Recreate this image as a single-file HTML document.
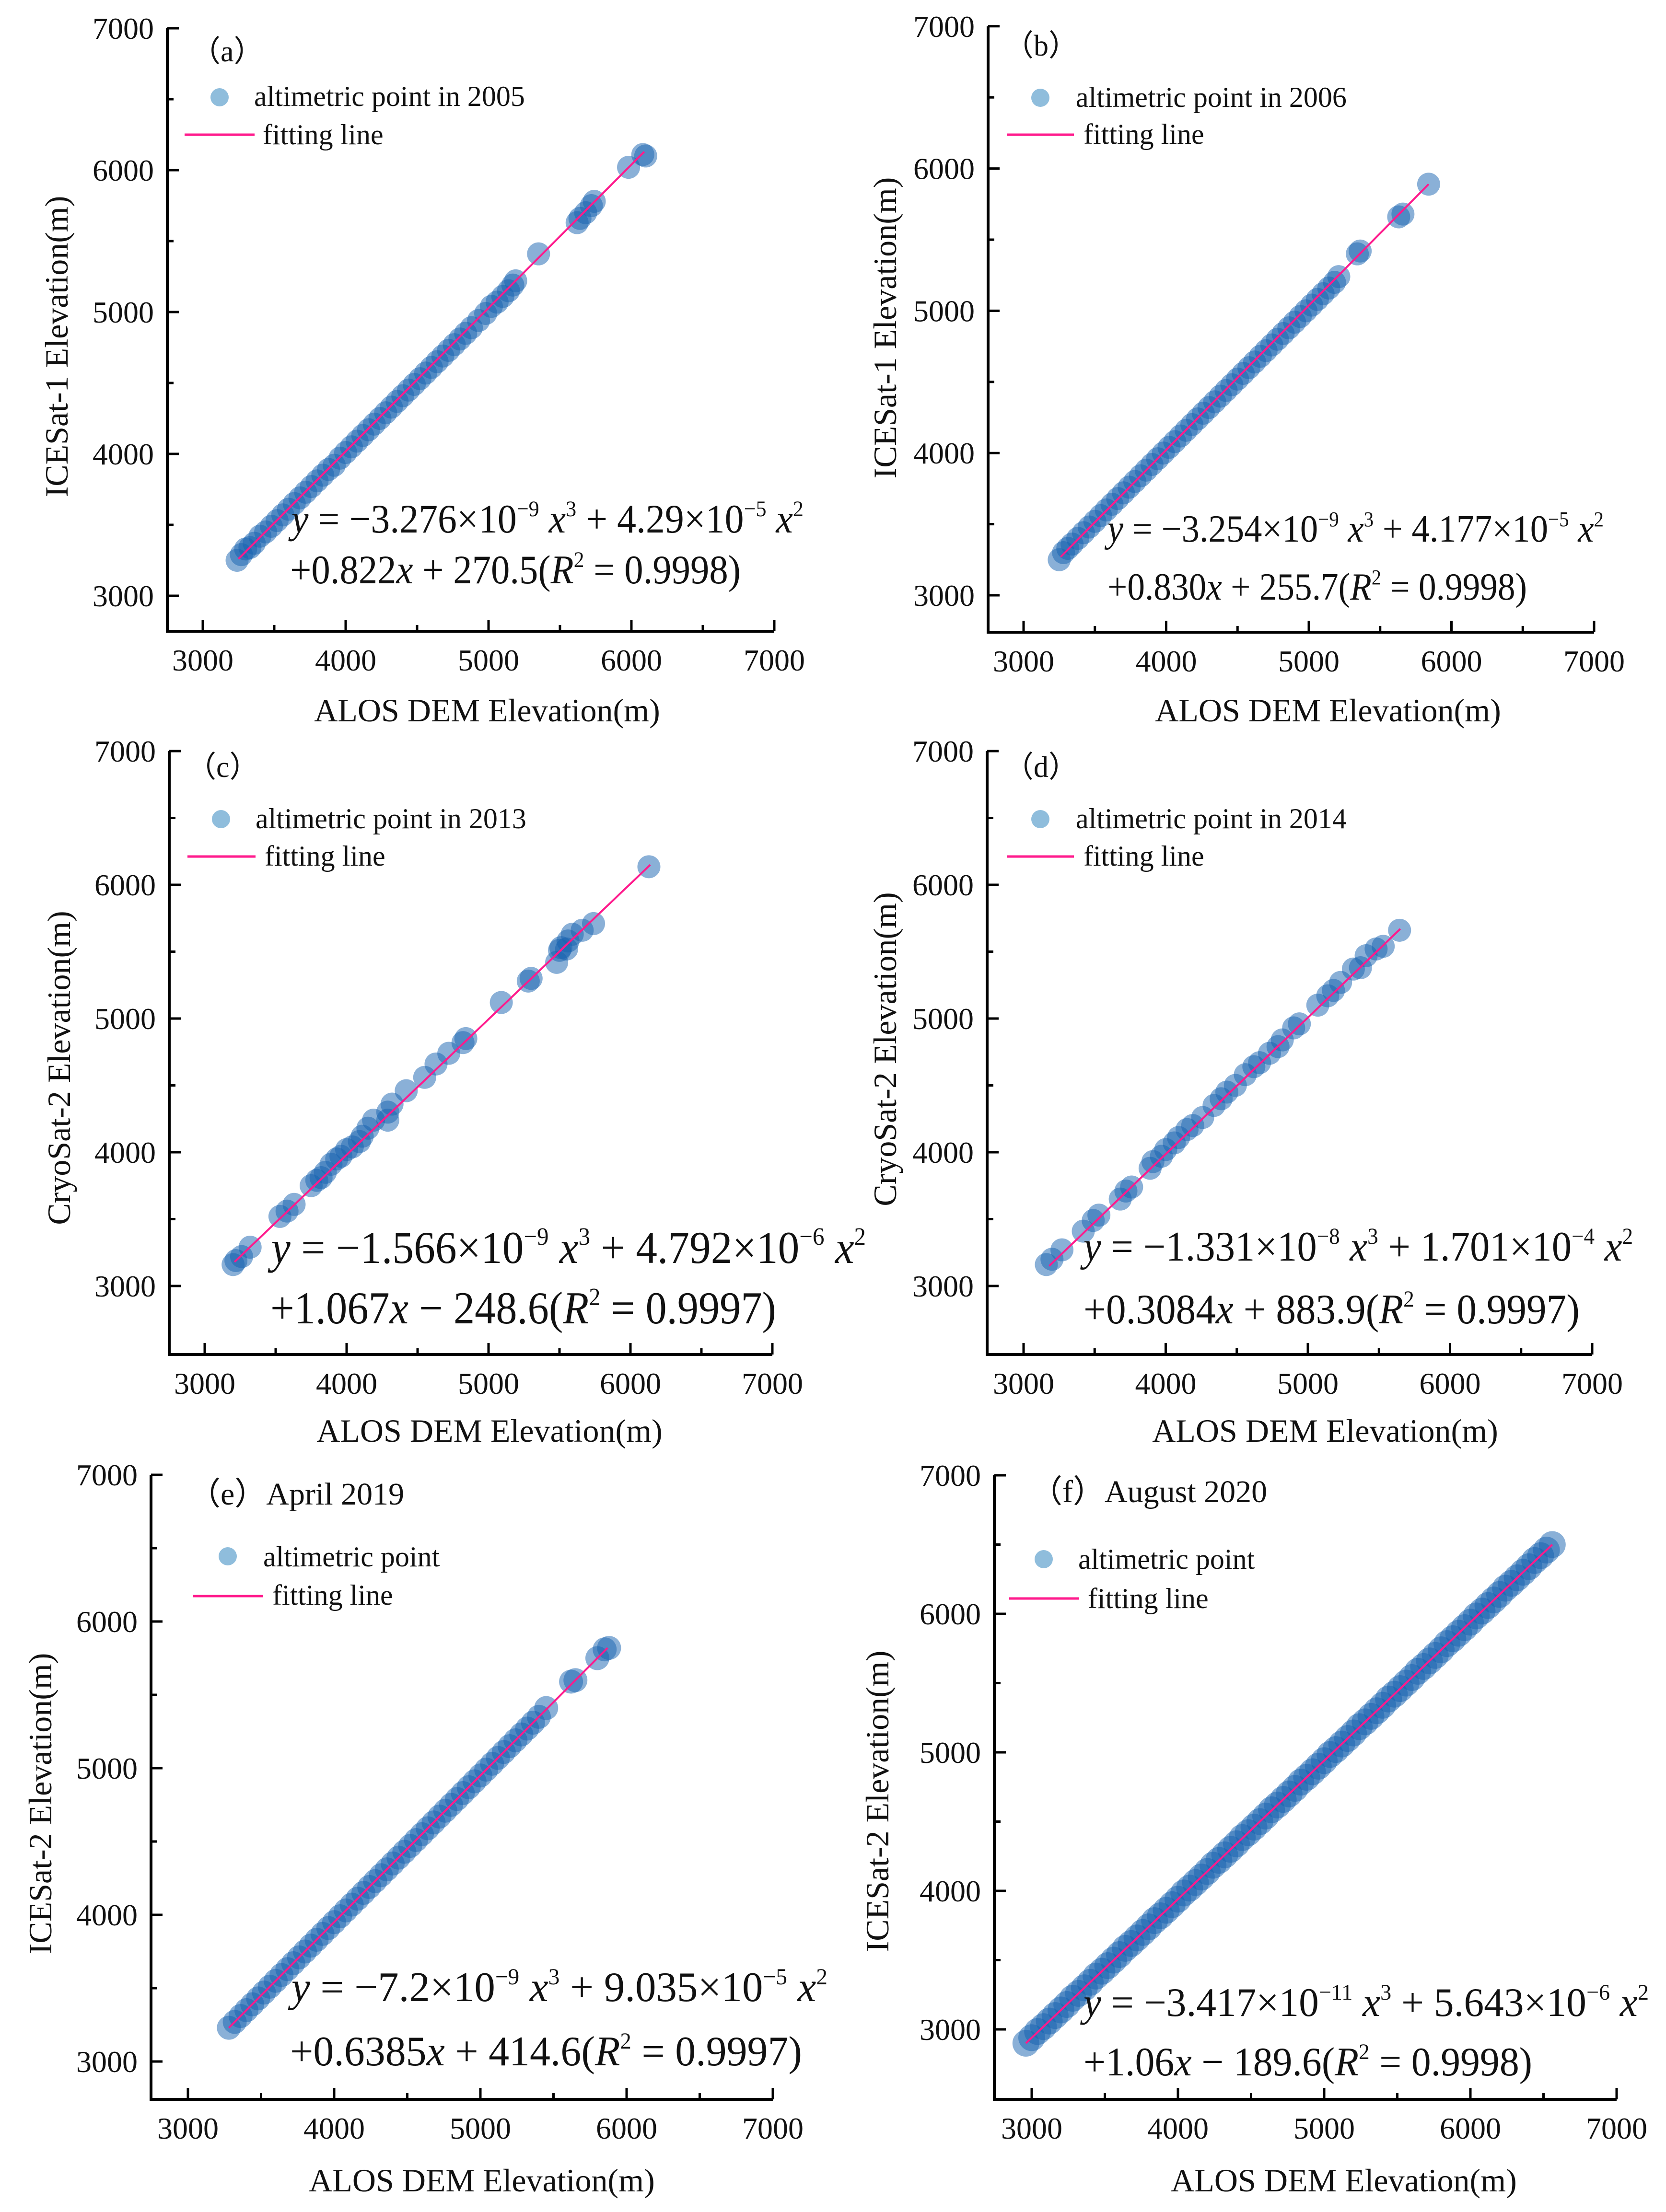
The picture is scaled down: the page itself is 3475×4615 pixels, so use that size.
<!DOCTYPE html>
<html><head><meta charset="utf-8">
<style>
html,body{margin:0;padding:0;background:#fff;}
svg{display:block;}
text{font-family:"Liberation Serif","Times New Roman",serif;fill:#111;}
</style></head>
<body>
<svg id="fig" width="3475" height="4615" viewBox="0 0 3475 4615" xmlns="http://www.w3.org/2000/svg">
<rect width="3475" height="4615" fill="#fff"/>
</svg>
<script>
// ---- data (ALOS DEM elevation x, satellite elevation y) ----
const aX=[3240,3270,3300,3330,3360,3400,3440,3480,3520,3560,3600,3640,3680,3720,3760,3800,3840,3880,3920,3960,4000,4040,4080,4120,4160,4200,4240,4280,4320,4360,4400,4440,4480,4520,4560,4600,4640,4680,4720,4760,4800,4840,4880,4930,4980,5020,5060,5100,5140,5170,5190,5350,5620,5640,5680,5720,5740,5980,6080,6100];
const aY=[3250,3290,3330,3340,3370,3420,3450,3490,3530,3570,3610,3650,3690,3730,3770,3810,3850,3890,3920,3970,4010,4050,4090,4130,4170,4210,4250,4290,4330,4370,4410,4450,4490,4530,4570,4610,4650,4690,4730,4770,4810,4850,4890,4940,4990,5040,5070,5110,5150,5190,5220,5410,5630,5660,5700,5750,5780,6020,6110,6100];
const aLineX=[3250,6090], aLineY=[3260,6130];
const bX=[3250,3280,3310,3340,3380,3420,3460,3500,3540,3580,3620,3660,3700,3740,3780,3820,3860,3900,3940,3980,4020,4060,4100,4140,4180,4220,4260,4300,4340,4380,4420,4460,4500,4540,4580,4620,4660,4700,4740,4780,4820,4860,4900,4940,4980,5020,5060,5100,5140,5180,5210,5340,5360,5630,5660,5840];
const bY=[3250,3300,3330,3360,3400,3440,3480,3520,3560,3600,3640,3680,3720,3760,3800,3840,3880,3920,3960,4000,4040,4080,4120,4160,4200,4240,4280,4320,4360,4400,4440,4480,4520,4560,4600,4640,4680,4720,4760,4800,4840,4880,4920,4960,5000,5040,5080,5120,5160,5200,5240,5400,5420,5660,5680,5890];
const bLineX=[3260,5840], bLineY=[3270,5890];
const cX=[3200,3220,3260,3320,3530,3580,3630,3750,3790,3820,3850,3890,3930,3960,4000,4040,4090,4110,4150,4190,4290,4290,4320,4420,4550,4630,4720,4820,4840,5090,5280,5300,5480,5500,5550,5510,5560,5590,5660,5740,6130];
const cY=[3160,3190,3220,3290,3520,3560,3610,3750,3790,3810,3850,3910,3950,3970,4020,4040,4080,4120,4180,4240,4240,4300,4360,4460,4560,4660,4740,4820,4850,5120,5280,5300,5420,5510,5520,5530,5580,5630,5660,5710,6135];
const cLineX=[3210,6140], cLineY=[3180,6150];
const dX=[3160,3200,3270,3420,3490,3530,3680,3720,3760,3890,3910,3970,4000,4060,4090,4150,4190,4260,4340,4390,4430,4490,4560,4620,4660,4730,4790,4820,4900,4940,5070,5140,5180,5230,5320,5370,5410,5480,5530,5645];
const dY=[3160,3200,3270,3410,3490,3530,3650,3710,3740,3880,3930,3970,4020,4070,4110,4170,4200,4260,4350,4400,4450,4500,4580,4640,4670,4740,4790,4840,4930,4960,5100,5170,5210,5270,5370,5380,5470,5520,5540,5660];
const dLineX=[3180,5650], dLineY=[3150,5670];
const eX=[3280,3320,3360,3400,3440,3480,3520,3560,3600,3640,3680,3720,3760,3800,3840,3880,3920,3960,4000,4040,4080,4120,4160,4200,4240,4280,4320,4360,4400,4440,4480,4520,4560,4600,4640,4680,4720,4760,4800,4840,4880,4920,4960,5000,5040,5080,5120,5160,5200,5240,5280,5320,5360,5400,5450,5620,5650,5800,5850,5880];
const eY=[3230,3270,3310,3350,3390,3430,3470,3510,3550,3590,3630,3670,3710,3750,3790,3830,3870,3910,3950,3990,4030,4070,4110,4150,4190,4230,4270,4310,4350,4390,4430,4470,4510,4550,4590,4630,4670,4710,4750,4790,4830,4870,4910,4950,4990,5030,5070,5110,5150,5190,5230,5270,5310,5350,5410,5590,5600,5750,5810,5820];
const eLineX=[3280,5870], eLineY=[3230,5820];
const fX=[2960,3000,3040,3080,3120,3160,3200,3240,3280,3320,3360,3400,3440,3480,3520,3560,3600,3640,3680,3720,3760,3800,3840,3880,3920,3960,4000,4040,4080,4120,4160,4200,4240,4280,4320,4360,4400,4440,4480,4520,4560,4600,4640,4680,4720,4760,4800,4840,4880,4920,4960,5000,5040,5080,5120,5160,5200,5240,5280,5320,5360,5400,5440,5480,5520,5560,5600,5640,5680,5720,5760,5800,5840,5880,5920,5960,6000,6040,6080,6120,6160,6200,6240,6280,6320,6360,6400,6440,6480,6520,6560];
const fY=[2900,2940,2985,3020,3060,3100,3140,3180,3225,3260,3300,3340,3385,3420,3460,3500,3540,3585,3620,3660,3700,3740,3785,3820,3860,3900,3940,3985,4020,4060,4100,4140,4185,4220,4260,4300,4340,4385,4420,4460,4500,4540,4585,4620,4660,4700,4740,4785,4820,4860,4900,4940,4985,5020,5060,5100,5140,5185,5220,5260,5300,5340,5385,5420,5460,5500,5540,5585,5620,5660,5700,5740,5785,5820,5860,5900,5940,5985,6020,6060,6100,6140,6185,6220,6260,6300,6340,6385,6420,6460,6500];
const fLineX=[2960,6560], fLineY=[2900,6500];
const xTicks=[3000,4000,5000,6000,7000];
const yTicks=[3000,4000,5000,6000,7000];

const NS="http://www.w3.org/2000/svg";
const svg=document.getElementById('fig');
function mk(tag,attrs,parent,txt){const e=document.createElementNS(NS,tag);for(const k in attrs)e.setAttribute(k,attrs[k]);if(txt!==undefined)e.textContent=txt;(parent||svg).appendChild(e);return e;}

const panels=[
 {id:'a',xs:aX,ys:aY,lx:aLineX,ly:aLineY,L:349,B:1317,x3:423,kx:0.298,y3:1243,ky:0.296,ymin:2750,r:24,
  label:'（a）',labX:398,labY:128,leg:[458,203,530,221,385,531,281,548,301],legText:'altimetric point in 2005',
  ytitle:'ICESat-1 Elevation(m)',ytx:117,yty:723,xtx:1016,xty:1505,
  eq:[608,1111,1068,605,1217,940,85],c3:'−3.276',e3:'−9',c2:'4.29',e2:'−5',l2:'+0.822',l2b:' + 270.5(',r2:'0.9998'},
 {id:'b',xs:bX,ys:bY,lx:bLineX,ly:bLineY,L:2061,B:1319,x3:2135,kx:0.2975,y3:1242,ky:0.2968,ymin:2750,r:24,
  label:'（b）',labX:2094,labY:116,leg:[2170,204,2244,223,2100,2240,281,2260,300],legText:'altimetric point in 2006',
  ytitle:'ICESat-1 Elevation(m)',ytx:1845,yty:684,xtx:2770,xty:1505,
  eq:[2310,1130,1035,2310,1251,875,80],c3:'−3.254',e3:'−9',c2:'4.177',e2:'−5',l2:'+0.830',l2b:' + 255.7(',r2:'0.9998'},
 {id:'c',xs:cX,ys:cY,lx:cLineX,ly:cLineY,L:353,B:2826,x3:427,kx:0.296,y3:2683,ky:0.279,ymin:2500,r:24,
  label:'（c）',labX:389,labY:1621,leg:[461,1709,533,1728,391,533,1787,552,1806],legText:'altimetric point in 2013',
  ytitle:'CryoSat-2 Elevation(m)',ytx:122,yty:2228,xtx:1021,xty:3008,
  eq:[566,2635,1240,564,2761,1055,95],c3:'−1.566',e3:'−9',c2:'4.792',e2:'−6',l2:'+1.067',l2b:' − 248.6(',r2:'0.9997'},
 {id:'d',xs:dX,ys:dY,lx:dLineX,ly:dLineY,L:2059,B:2826,x3:2135,kx:0.2965,y3:2683,ky:0.279,ymin:2500,r:24,
  label:'（d）',labX:2094,labY:1621,leg:[2170,1709,2244,1728,2100,2240,1787,2260,1806],legText:'altimetric point in 2014',
  ytitle:'CryoSat-2 Elevation(m)',ytx:1845,yty:2189,xtx:2764,xty:3008,
  eq:[2260,2630,1146,2260,2761,1035,88],c3:'−1.331',e3:'−8',c2:'1.701',e2:'−4',l2:'+0.3084',l2b:' + 883.9(',r2:'0.9997'},
 {id:'e',xs:eX,ys:eY,lx:eLineX,ly:eLineY,L:315,B:4380,x3:392,kx:0.305,y3:4301,ky:0.306,ymin:2750,r:25,
  label:'（e）April 2019',labX:394,labY:3139,leg:[475,3247,549,3268,402,549,3330,568,3348],legText:'altimetric point',
  ytitle:'ICESat-2 Elevation(m)',ytx:83,yty:3763,xtx:1005,xty:4572,
  eq:[608,4175,1118,605,4309,1068,88],c3:'−7.2',e3:'−9',c2:'9.035',e2:'−5',l2:'+0.6385',l2b:' + 414.6(',r2:'0.9997'},
 {id:'f',xs:fX,ys:fY,lx:fLineX,ly:fLineY,L:2074,B:4380,x3:2152,kx:0.305,y3:4234,ky:0.289,ymin:2500,r:28,
  label:'（f）August 2020',labX:2150,labY:3134,leg:[2177,3253,2249,3273,2105,2251,3335,2269,3355],legText:'altimetric point',
  ytitle:'ICESat-2 Elevation(m)',ytx:1829,yty:3758,xtx:2803,xty:4572,
  eq:[2260,4206,1179,2260,4330,936,85],c3:'−3.417',e3:'−11',c2:'5.643',e2:'−6',l2:'+1.06',l2b:' − 189.6(',r2:'0.9998'}
];

panels.forEach(p=>{
  const g=mk('g',{});
  
  
  const px=v=>p.x3+(v-3000)*p.kx;
  const py=v=>p.y3-(v-3000)*p.ky;
  const top=py(7000), right=px(7000);
  const pg=mk('g',{},g);
  
  
  const n=Math.min(p.xs.length,p.ys.length);
  for(let i=0;i<n;i++){
    const c=mk('circle',{cx:px(p.xs[i]),cy:py(p.ys[i]),r:p.r,fill:'rgb(22,98,176)','fill-opacity':0.5},pg);
    
    
  }
  const fl=mk('line',{x1:px(p.lx[0]),y1:py(p.ly[0]),x2:px(p.lx[1]),y2:py(p.ly[1]),stroke:'#ff1a8c','stroke-width':4},g);
  
  
  const ax=mk('path',{d:`M${p.L},${top} V${p.B} H${right}`,fill:'none',stroke:'#000','stroke-width':6},g);
  
  
  for(let v=3000;v<=7000;v+=500){
    const major=v%1000===0, len=major?24:13;
    mk('line',{x1:px(v),y1:p.B,x2:px(v),y2:p.B-len,stroke:'#000','stroke-width':5},g);
  }
  for(let v=3000;v<=7000;v+=500){
    const major=v%1000===0, len=major?24:13;
    mk('line',{x1:p.L,y1:py(v),x2:p.L+len,y2:py(v),stroke:'#000','stroke-width':5},g);
  }
  xTicks.forEach(v=>{
    const t=mk('text',{x:px(v),y:p.B+82,'font-size':64,'text-anchor':'middle'},g,String(v));
    
    
  });
  yTicks.forEach(v=>{
    const t=mk('text',{x:p.L-28,y:py(v)+22,'font-size':64,'text-anchor':'end'},g,String(v));
    
    
  });
  const xt=mk('text',{x:p.xtx,y:p.xty,'font-size':68,'text-anchor':'middle'},g,'ALOS DEM Elevation(m)');
  
  
  const yt=mk('text',{x:0,y:0,'font-size':68,'text-anchor':'middle',transform:`translate(${p.ytx+24},${p.yty}) rotate(-90)`},g,p.ytitle);
  
  
  const lb=mk('text',{x:p.labX,y:p.labY,'font-size':p.label.length>4?66:62},g,p.label);
  
  
  const L=p.leg;
  const lg=mk('g',{},g);
  
  
  mk('circle',{cx:L[0],cy:L[1],r:19,fill:'#8fbddc'},lg);
  mk('text',{x:L[2],y:L[3],'font-size':60},lg,p.legText);
  mk('line',{x1:L[4],y1:L[6],x2:L[5],y2:L[6],stroke:'#ff1a8c','stroke-width':5},lg);
  mk('text',{x:L[7],y:L[8],'font-size':60},lg,'fitting line');
  const E=p.eq, fs=E[6], sup=Math.round(fs*0.55);
  const t1=mk('text',{x:E[0],y:E[1],'font-size':fs,textLength:E[2],lengthAdjust:'spacingAndGlyphs'},g);
  
  
  mk('tspan',{'font-style':'italic'},t1,'y');
  mk('tspan',{},t1,' = '+p.c3+'×10');
  mk('tspan',{'font-size':sup,dy:-fs*0.4},t1,p.e3);
  mk('tspan',{'font-style':'italic',dy:fs*0.4},t1,' x');
  mk('tspan',{'font-size':sup,dy:-fs*0.4},t1,'3');
  mk('tspan',{dy:fs*0.4},t1,' + '+p.c2+'×10');
  mk('tspan',{'font-size':sup,dy:-fs*0.4},t1,p.e2);
  mk('tspan',{'font-style':'italic',dy:fs*0.4},t1,' x');
  mk('tspan',{'font-size':sup,dy:-fs*0.4},t1,'2');
  const t2=mk('text',{x:E[3],y:E[4],'font-size':fs,textLength:E[5],lengthAdjust:'spacingAndGlyphs'},g);
  
  
  mk('tspan',{},t2,p.l2);
  mk('tspan',{'font-style':'italic'},t2,'x');
  mk('tspan',{},t2,p.l2b);
  mk('tspan',{'font-style':'italic'},t2,'R');
  mk('tspan',{'font-size':sup,dy:-fs*0.4},t2,'2');
  mk('tspan',{dy:fs*0.4},t2,' = '+p.r2+')');
});
</script>
</body></html>
